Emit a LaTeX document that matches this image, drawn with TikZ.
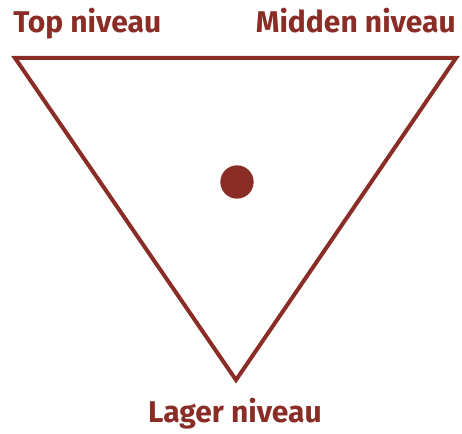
\documentclass[tikz,border=0pt]{standalone}
\usepackage{fontspec}
\setmainfont{Fira Sans}
\definecolor{brn}{HTML}{8B2D27}
\begin{document}
\begin{tikzpicture}[x=0.75pt,y=-0.75pt,
  lbl/.style={text=brn,font=\fontsize{22.5}{26}\selectfont\bfseries,inner sep=0pt},
  edge/.style={draw=brn,line width=3pt,line join=miter}]
\useasboundingbox (0,0) rectangle (462,434);
\coordinate (tl) at (15,58);
\coordinate (tr) at (456,58);
\coordinate (bt) at (236,380);
\draw[edge] (tl) -- (tr) -- (bt) -- cycle;
\node[fill=brn,circle,minimum size=25pt,inner sep=0pt] (dot) at (237,182) {};
\node[lbl,anchor=base west] (top) at (13,33) {Top niveau};
\node[lbl,anchor=base east] (mid) at (456,33) {Midden niveau};
\node[lbl,anchor=base] (low) at (235,423) {Lager niveau};
\end{tikzpicture}
\end{document}
